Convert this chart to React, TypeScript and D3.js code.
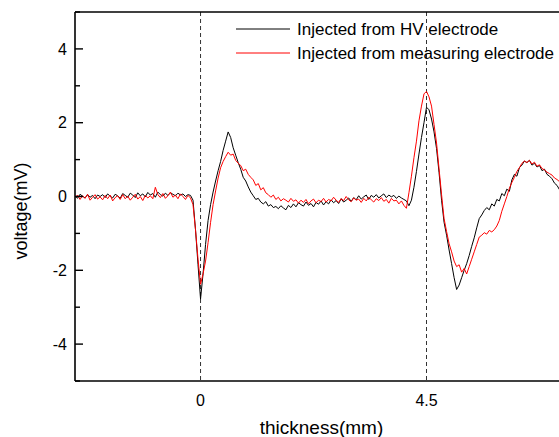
import React from "react";
import * as d3 from "d3";

// thickness grid: first sample and spacing (mm)
const thicknessStart = -2.5;
const thicknessStep = 0.05;

// Injected from HV electrode (mV)
const hvValues = [
  0.02, -0.05, 0.06, 0.01, -0.04, 0.05, -0.02, 0.03, -0.06, 0.04,
  0.0, 0.05, -0.03, 0.07, 0.01, -0.04, 0.06, 0.02, -0.05, 0.08,
  0.03, -0.02, 0.09, 0.04, -0.03, 0.1, 0.02, 0.07, -0.01, 0.11,
  0.04, 0.08, -0.02, 0.12, 0.05, 0.01, 0.09, 0.03, 0.1, 0.06,
  0.02, 0.09, 0.04, 0.07, 0.0, 0.05, 0.03, -0.1, -0.9, -1.85,
  -2.78, -2.1, -1.3, -0.65, -0.22, 0.12, 0.42, 0.7, 0.95, 1.25,
  1.5, 1.75, 1.6, 1.32, 1.12, 0.92, 0.74, 0.52, 0.42, 0.26,
  0.12, 0.02, -0.08, -0.05, -0.15, -0.2, -0.14, -0.26, -0.22, -0.3,
  -0.27, -0.33, -0.25, -0.31, -0.36, -0.24, -0.3, -0.2, -0.28, -0.17,
  -0.22, -0.26, -0.15, -0.24, -0.19, -0.28, -0.16, -0.21, -0.12, -0.23,
  -0.14, -0.2, -0.09, -0.17, -0.11, -0.19, -0.06, -0.15, -0.1, -0.04,
  -0.13, -0.03, -0.09, 0.02, -0.07, -0.01, 0.04, -0.08, 0.03, -0.02,
  0.05, -0.04, 0.02, 0.07, -0.03, 0.04, -0.01, 0.03, -0.05, 0.01,
  -0.04, -0.08, -0.12, -0.25, -0.1, 0.25, 0.68, 1.15, 1.6, 2.0,
  2.42, 2.35, 2.1, 1.75, 1.3, 0.65, -0.1, -0.7, -1.05, -1.45,
  -1.82, -2.2, -2.52, -2.4, -2.2, -2.0, -1.82, -1.6, -1.35, -1.12,
  -0.85, -0.6, -0.5, -0.38, -0.3, -0.36, -0.2, -0.26, -0.08, -0.12,
  0.08, 0.02, 0.2, 0.14, 0.45, 0.6, 0.55, 0.78, 0.85, 0.96,
  0.92, 0.98, 0.85, 0.9, 0.8, 0.84, 0.7, 0.74, 0.6, 0.55,
  0.48, 0.36, 0.3, 0.18,
];

// Injected from measuring electrode (mV)
const measValues = [
  -0.03, 0.04, -0.08, 0.02, -0.05, 0.06, -0.1, -0.02, 0.05, -0.07,
  -0.01, -0.09, 0.03, -0.06, 0.04, -0.12, -0.03, 0.02, -0.08, 0.05,
  -0.06, 0.01, -0.1, -0.02, 0.06, -0.07, 0.0, -0.11, 0.03, -0.04,
  0.02, -0.06, 0.25, 0.05, -0.03, 0.08, -0.05, 0.02, 0.12, -0.02,
  0.04, -0.06, 0.07, 0.0, -0.08, 0.03, -0.04, -0.22, -0.9, -1.7,
  -2.38, -2.1, -1.75, -1.25, -0.7, -0.22, 0.15, 0.5, 0.78, 0.95,
  1.08, 1.2, 1.12, 1.15, 0.98, 0.9, 0.84, 0.7, 0.74, 0.6,
  0.52, 0.45, 0.3, 0.35, 0.18, 0.24, 0.1, 0.05, -0.02, 0.04,
  -0.08, -0.02, -0.12, -0.06, -0.1, -0.15, -0.05, -0.13, -0.09, -0.18,
  -0.1, -0.16, -0.08, -0.2, -0.12, -0.07, -0.17, -0.1, -0.14, -0.05,
  -0.15, -0.08, -0.12, -0.02, -0.1, -0.16, -0.06, -0.11, 0.0, -0.09,
  -0.14, -0.04, -0.1, -0.07, -0.16, -0.05, -0.12, -0.02, -0.09, -0.15,
  -0.06, -0.11, -0.03, -0.13, -0.08, -0.18, -0.05, -0.12, -0.1, -0.2,
  -0.12, -0.24, -0.32, 0.1, 0.55, 1.05, 1.5, 2.05, 2.45, 2.78,
  2.85, 2.7, 2.45, 1.95, 1.45, 0.75, 0.05, -0.6, -0.95, -1.28,
  -1.5, -1.75, -1.9, -1.85, -2.05, -1.95, -2.1, -1.9, -1.7, -1.5,
  -1.3, -1.1, -1.05, -0.98, -1.02, -0.92, -0.96, -0.9, -0.8, -0.65,
  -0.4, -0.2, 0.0, 0.22, 0.38, 0.52, 0.68, 0.78, 0.9, 0.96,
  0.92, 0.98, 0.88, 0.93, 0.82, 0.86, 0.76, 0.72, 0.66, 0.62,
  0.58, 0.5, 0.46, 0.4,
];

const yMajorTicks = [-4, -2, 0, 2, 4];
const yMinorTicks = [-5, -3, -1, 1, 3, 5];
const xTickValues = [0, 4.5];
const xTickLabels = ["0", "4.5"];
const markerLines = [0, 4.5];

const seriesNames = ["Injected from HV electrode", "Injected from measuring electrode"];
const seriesColors = ["#000000", "#ff0000"];

const W = 559;
const H = 437;
const FONT = "Arial, 'Liberation Sans', sans-serif";

export default function App() {
  const x = d3.scaleLinear().domain([-2.5, 4.5]).range([75, 426.5]);
  const y = d3.scaleLinear().domain([-5, 5]).range([381, 12]);
  const left = x(-2.5);
  const bottom = y(-5);
  const top = y(5);

  const toPts = (vals: number[]) =>
    vals.map((v, i) => [thicknessStart + i * thicknessStep, v] as [number, number]);
  const line = d3
    .line<[number, number]>()
    .x((d) => x(d[0]))
    .y((d) => y(d[1]));

  const series = [hvValues, measValues];

  return (
    <svg
      width={W}
      height={H}
      style={{ position: "absolute", left: 0, top: 0, background: "#fff" }}
      fontFamily={FONT}
    >
      <defs>
        <clipPath id="plot">
          <rect x={left} y={top} width={W - left} height={bottom - top} />
        </clipPath>
      </defs>

      {markerLines.map((m) => (
        <line
          key={m}
          x1={x(m)}
          x2={x(m)}
          y1={top}
          y2={bottom}
          stroke="#333"
          strokeWidth={1}
          strokeDasharray="4,3"
        />
      ))}

      <g clipPath="url(#plot)">
        {series.map((vals, k) => (
          <path
            key={k}
            d={line(toPts(vals)) || ""}
            fill="none"
            stroke={seriesColors[k]}
            strokeWidth={1}
            strokeLinejoin="round"
          />
        ))}
      </g>

      {/* axes frame */}
      <line x1={left} x2={W} y1={top} y2={top} stroke="#000" strokeWidth={1.6} />
      <line x1={left} x2={W} y1={bottom} y2={bottom} stroke="#000" strokeWidth={1.6} />
      <line x1={left} x2={left} y1={top} y2={bottom} stroke="#000" strokeWidth={1.6} />

      {yMajorTicks.map((t) => (
        <g key={"M" + t}>
          <line x1={left} x2={left + 8} y1={y(t)} y2={y(t)} stroke="#000" strokeWidth={1.4} />
          <text x={left - 8} y={y(t)} dy="0.36em" textAnchor="end" fontSize={16} fill="#000">
            {t < 0 ? "-" + Math.abs(t) : String(t)}
          </text>
        </g>
      ))}
      {yMinorTicks.map((t) => (
        <line key={"m" + t} x1={left} x2={left + 5} y1={y(t)} y2={y(t)} stroke="#000" strokeWidth={1.4} />
      ))}

      {xTickValues.map((t, i) => (
        <text key={t} x={x(t)} y={bottom + 25} textAnchor="middle" fontSize={16} fill="#000">
          {xTickLabels[i]}
        </text>
      ))}

      <text x={321.5} y={434} textAnchor="middle" fontSize={19} fill="#000">
        thickness(mm)
      </text>
      <text
        transform={`translate(27, 211) rotate(-90)`}
        textAnchor="middle"
        fontSize={18}
        fill="#000"
      >
        voltage(mV)
      </text>

      {seriesNames.map((name, k) => (
        <g key={name}>
          <line x1={236} x2={290} y1={29 + k * 24} y2={29 + k * 24} stroke={seriesColors[k]} strokeWidth={1} />
          <text x={297} y={29 + k * 24} dy="0.36em" fontSize={17} fill="#000">
            {name}
          </text>
        </g>
      ))}
    </svg>
  );
}
